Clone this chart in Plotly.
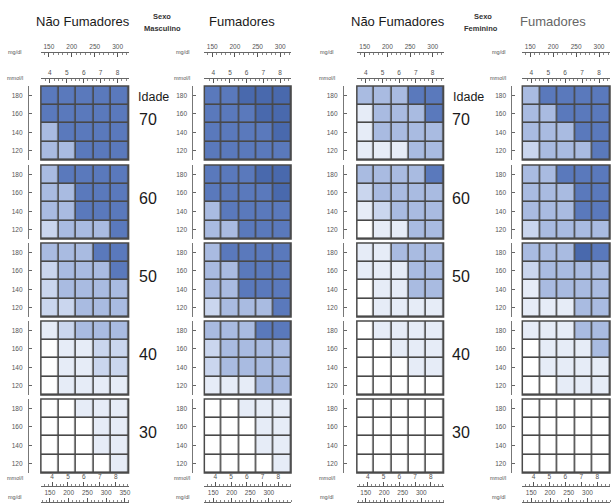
import plotly.graph_objects as go

# ---------------- data ----------------
age_groups = [70, 60, 50, 40, 30]
chol_mmol = [4, 5, 6, 7, 8]
sbp_levels = [180, 160, 140, 120]
mgdl_top_ticks = [150, 200, 250, 300]
mgdl_bottom_ticks_first = [150, 200, 250, 300, 350]
mgdl_bottom_ticks = [150, 200, 250, 300]
mmol_ticks = [4, 5, 6, 7, 8]

# risk level per cell (0 = white ... 5 = darkest); rows = SBP 180,160,140,120 ; cols = chol 4..8
men_nonsmokers = [
    [[4, 4, 4, 4, 4], [4, 4, 4, 4, 4], [3, 4, 4, 4, 4], [3, 3, 4, 4, 4]],
    [[3, 4, 4, 4, 4], [3, 3, 4, 4, 4], [3, 3, 4, 4, 4], [2, 3, 3, 3, 4]],
    [[3, 3, 3, 4, 4], [2, 3, 3, 3, 4], [2, 3, 3, 3, 3], [2, 2, 3, 3, 3]],
    [[1, 2, 3, 3, 3], [0, 1, 1, 2, 2], [0, 1, 1, 2, 2], [0, 1, 1, 1, 1]],
    [[0, 0, 1, 1, 1], [0, 0, 0, 1, 1], [0, 0, 0, 1, 1], [0, 0, 0, 0, 1]],
]
men_smokers = [
    [[4, 4, 5, 5, 5], [4, 4, 4, 5, 5], [4, 4, 4, 4, 5], [4, 4, 4, 4, 4]],
    [[4, 4, 4, 5, 5], [4, 4, 4, 4, 5], [3, 4, 4, 4, 4], [3, 3, 4, 4, 4]],
    [[3, 4, 4, 4, 4], [3, 3, 4, 4, 4], [3, 3, 4, 4, 4], [2, 3, 3, 3, 4]],
    [[3, 3, 3, 4, 4], [2, 3, 3, 3, 3], [2, 3, 3, 3, 3], [1, 1, 1, 3, 3]],
    [[0, 0, 1, 1, 1], [0, 0, 0, 1, 1], [0, 0, 0, 1, 1], [0, 0, 0, 0, 1]],
]
women_nonsmokers = [
    [[3, 3, 3, 4, 4], [1, 3, 3, 3, 4], [1, 3, 3, 3, 3], [1, 1, 1, 3, 3]],
    [[3, 3, 3, 3, 4], [2, 3, 3, 3, 3], [1, 2, 3, 3, 3], [0, 1, 1, 3, 3]],
    [[1, 1, 3, 3, 3], [1, 1, 1, 3, 3], [0, 1, 1, 3, 3], [0, 1, 1, 1, 1]],
    [[0, 1, 1, 1, 1], [0, 0, 1, 1, 1], [0, 0, 0, 1, 1], [0, 0, 0, 0, 0]],
    [[0, 0, 0, 0, 0], [0, 0, 0, 0, 0], [0, 0, 0, 0, 0], [0, 0, 0, 0, 0]],
]
women_smokers = [
    [[3, 4, 4, 4, 4], [3, 3, 4, 4, 4], [3, 3, 3, 4, 4], [2, 3, 3, 3, 4]],
    [[3, 3, 4, 4, 4], [3, 3, 3, 4, 4], [3, 3, 3, 4, 4], [2, 3, 3, 3, 3]],
    [[3, 3, 3, 5, 4], [2, 3, 3, 3, 3], [1, 3, 3, 3, 3], [1, 1, 1, 3, 3]],
    [[1, 1, 1, 3, 3], [0, 1, 1, 1, 3], [0, 1, 1, 1, 1], [0, 0, 1, 1, 1]],
    [[0, 0, 0, 0, 0], [0, 0, 0, 0, 0], [0, 0, 0, 0, 0], [0, 0, 0, 0, 0]],
]

level_colors = ["#ffffff", "#e6ecf7", "#cad6ee", "#a9bbe1", "#5a79bc", "#4969ad"]

# ---------------- layout geometry (pixels) ----------------
W, H = 614, 504
FONT = "Liberation Sans, Arial, sans-serif"


def px(x):
    return x / W


def py(y):
    return 1 - y / H


def xid(n):
    return "x" if n == 1 else f"x{n}"


def yid(n):
    return "y" if n == 1 else f"y{n}"


def xkey(n):
    return "xaxis" if n == 1 else f"xaxis{n}"


def ykey(n):
    return "yaxis" if n == 1 else f"yaxis{n}"


columns = [
    dict(data=men_nonsmokers, x0=41, x1=129, yline=28, lab_x=15, title="Não Fumadores",
         title_x=83, title_color="#1a1a1a", bottom_mg=mgdl_bottom_ticks_first),
    dict(data=men_smokers, x0=205, x1=292, yline=193, lab_x=183, title="Fumadores",
         title_x=243, title_color="#1a1a1a", bottom_mg=mgdl_bottom_ticks),
    dict(data=women_nonsmokers, x0=358, x1=445, yline=344, lab_x=328, title="Não Fumadores",
         title_x=399, title_color="#1a1a1a", bottom_mg=mgdl_bottom_ticks),
    dict(data=women_smokers, x0=524, x1=612, yline=513, lab_x=500, title="Fumadores",
         title_x=555, title_color="#666666", bottom_mg=mgdl_bottom_ticks),
]
row_tops = [86, 165, 243, 321, 399]
row_h = 74

colorscale = [[i / (len(level_colors) - 1), c] for i, c in enumerate(level_colors)]

fig = go.Figure()
layout = dict(
    width=W, height=H, margin=dict(l=0, r=0, t=0, b=0),
    paper_bgcolor="white", plot_bgcolor="#484848",
    showlegend=False, font=dict(family=FONT, color="#333"),
)
shapes = []
annotations = []

tick_font = dict(family=FONT, size=6.5, color="#555")

for c, col in enumerate(columns):
    for r, age in enumerate(age_groups):
        n = c * 5 + r + 1
        fig.add_trace(go.Heatmap(
            z=col["data"][r], x=chol_mmol, y=sbp_levels,
            colorscale=colorscale, zmin=0, zmax=len(level_colors) - 1,
            showscale=False, xgap=1.6, ygap=1.6, hoverinfo="skip",
            xaxis=xid(n), yaxis=yid(n),
        ))
        top = row_tops[r]
        layout[xkey(n)] = dict(
            domain=[px(col["x0"]), px(col["x1"])], anchor=yid(n),
            range=[3.5, 8.5], showticklabels=False, ticks="", showgrid=False,
            zeroline=False, showline=False, fixedrange=True,
        )
        layout[ykey(n)] = dict(
            domain=[py(top + row_h), py(top)], anchor="free", position=px(col["yline"]),
            range=[110, 190], tickmode="array", tickvals=sbp_levels,
            ticktext=[str(v) for v in sbp_levels], ticks="inside", ticklen=3,
            tickcolor="#666", showline=True, linecolor="#777", linewidth=1,
            ticklabelstandoff=4,
            showgrid=False, zeroline=False, tickfont=tick_font, fixedrange=True,
        )
        shapes.append(dict(type="rect", xref=f"{xid(n)} domain", yref=f"{yid(n)} domain",
                           x0=0, x1=1, y0=0, y1=1, line=dict(color="#4a4a4a", width=1.5)))

    top_n = c * 5 + 1
    bot_n = c * 5 + 5
    base = 21 + 4 * c
    axes_spec = [
        (base, top_n, [132.6, 323.9], mgdl_top_ticks, 52, "inside", 10),
        (base + 1, top_n, [3.47, 8.65], mmol_ticks, 78, "inside", 0.25),
        (base + 2, bot_n, [3.3, 8.8], mmol_ticks, 486, "outside", 0.25),
        (base + 3, bot_n, [126, 360], col["bottom_mg"], 502, "outside", 10),
    ]
    for ax_id, over_n, rng, ticks, yl, tdir, mdt in axes_spec:
        layout[xkey(ax_id)] = dict(
            overlaying=xid(over_n), anchor="free", position=py(yl), side="top",
            range=rng, tickmode="array", tickvals=ticks,
            ticktext=[str(v) for v in ticks], ticks=tdir, ticklen=4,
            tickcolor="#555", showline=True, linecolor="#666", linewidth=1,
            showgrid=False, zeroline=False, tickfont=tick_font, fixedrange=True,
            minor=dict(ticks=tdir, ticklen=2, dtick=mdt, tick0=ticks[0], tickcolor="#888", showgrid=False),
        )
        fig.add_trace(go.Scatter(
            x=ticks, y=[sbp_levels[0]] * len(ticks), mode="markers",
            marker=dict(opacity=0), hoverinfo="skip", showlegend=False,
            xaxis=xid(ax_id), yaxis=yid(over_n),
        ))

    # titles and unit labels
    annotations.append(dict(text=col["title"], x=px(col["title_x"]), y=py(22), xref="paper", yref="paper",
                            showarrow=False, xanchor="center", yanchor="middle",
                            font=dict(family=FONT, size=13, color=col["title_color"])))
    for txt, yy in [("mg/dl", 52), ("mmol/l", 78), ("mmol/l", 478), ("mg/dl", 497)]:
        annotations.append(dict(text=txt, x=px(col["lab_x"]), y=py(yy), xref="paper", yref="paper",
                                showarrow=False, xanchor="center", yanchor="middle",
                                font=dict(family=FONT, size=5.5, color="#555")))

# sex headers
for txt, xx in [("Sexo", 163), ("Masculino", 163), ("Sexo", 485), ("Feminino", 483)]:
    yy = 16 if txt == "Sexo" else 28
    annotations.append(dict(text=f"<b>{txt}</b>", x=px(xx), y=py(yy), xref="paper", yref="paper",
                            showarrow=False, xanchor="center", yanchor="middle",
                            font=dict(family=FONT, size=7.5, color="#333")))

# age labels
for cx, ix in [(148, 154), (463, 470)]:
    annotations.append(dict(text="Idade", x=px(ix), y=py(97), xref="paper", yref="paper",
                            showarrow=False, xanchor="center", yanchor="middle",
                            font=dict(family=FONT, size=12.5, color="#1a1a1a")))
    for r, age in enumerate(age_groups):
        annotations.append(dict(text=str(age), x=px(cx), y=py(row_tops[r] + 0.45 * row_h),
                                xref="paper", yref="paper", showarrow=False,
                                xanchor="center", yanchor="middle",
                                font=dict(family=FONT, size=16, color="#1a1a1a")))

layout["shapes"] = shapes
layout["annotations"] = annotations
fig.update_layout(**layout)
fig.write_html("out.html", config={"displayModeBar": False},
               post_script="document.body.style.margin='0px';")
